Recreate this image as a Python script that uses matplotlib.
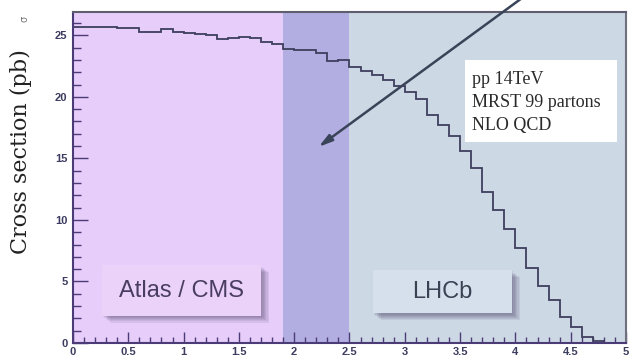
import matplotlib
matplotlib.use("Agg")
import matplotlib.pyplot as plt
import numpy as np
from matplotlib.patches import Rectangle
from matplotlib.ticker import MultipleLocator, FuncFormatter

# Histogram contents, bins of 0.1 from 0 to 5
bin_edges = np.linspace(0, 5, 51)
cross_section = [25.7, 25.7, 25.7, 25.7, 25.6, 25.6, 25.3, 25.3, 25.5, 25.3,
                 25.2, 25.1, 25.0, 24.7, 24.8, 24.9, 24.8, 24.5, 24.3, 23.9,
                 23.8, 23.8, 23.6, 22.9, 23.0, 22.4, 22.1, 21.8, 21.4, 20.9,
                 20.4, 19.8, 18.5, 17.7, 16.8, 15.6, 14.2, 12.3, 10.8, 9.3,
                 7.7, 6.1, 4.6, 3.5, 2.1, 1.3, 0.5, 0.2, 0.0, 0.0]

# Acceptance regions
atlas_range = (0.0, 1.9)
overlap_range = (1.9, 2.5)
lhcb_range = (2.5, 5.0)

info_lines = ["pp 14TeV", "MRST 99 partons", "NLO QCD"]

fig = plt.figure(figsize=(6.34, 3.61), dpi=100)
ax = fig.add_axes([0.1151, 0.0499, 0.8723, 0.9169])
ax.set_xlim(0, 5)
ax.set_ylim(0, 26.9)

# coloured regions
ax.axvspan(*atlas_range, color="#e6cdfa", lw=0, zorder=0)
ax.axvspan(*overlap_range, color="#b3aee2", lw=0, zorder=0)
ax.axvspan(*lhcb_range, color="#cdd8e5", lw=0, zorder=0)

# histogram
ax.stairs(cross_section, bin_edges, color="#3e3f5e", lw=1.3, zorder=2)


def shadow_box(x0, y0, x1, y1, face):
    # soft drop shadow, then the box
    for i in range(6):
        dx = 0.012 * (i + 1)
        dy = 0.09 * (i + 1)
        ax.add_patch(Rectangle((x0 + dx, y0 - dy), x1 - x0, y1 - y0,
                               facecolor="#3a2f55", edgecolor="none",
                               alpha=0.09, zorder=3))
    ax.add_patch(Rectangle((x0, y0), x1 - x0, y1 - y0, facecolor=face,
                           edgecolor="none", zorder=3.5))


shadow_box(0.26, 2.2, 1.70, 6.3, "#ebd2f8")
ax.text(0.98, 4.25, "Atlas / CMS", family="Liberation Sans", fontsize=17,
        color="#4a3d62", ha="center", va="center", zorder=4)

shadow_box(2.71, 2.4, 3.97, 5.9, "#d6dfec")
ax.text(3.34, 4.15, "LHCb", family="Liberation Sans", fontsize=17,
        color="#3a4152", ha="center", va="center", zorder=4)

# white info box
ax.add_patch(Rectangle((3.54, 16.3), 1.38, 6.7, facecolor="white",
                       edgecolor="none", zorder=4))
for k, line in enumerate(info_lines):
    ax.text(3.61, 21.4 - 1.85 * k, line, family="Liberation Serif",
            fontsize=13, color="#2a2a2a", ha="left", va="center", zorder=5)

# arrow coming from above the frame
ax.annotate("", xy=(2.2, 15.8), xytext=(4.10, 28.3),
            arrowprops=dict(arrowstyle="-|>,head_width=0.22,head_length=0.8",
                            color="#3a4458", lw=1.8),
            annotation_clip=False, zorder=6)

# ticks
ax.xaxis.set_major_locator(MultipleLocator(0.5))
ax.xaxis.set_minor_locator(MultipleLocator(0.1))
ax.yaxis.set_major_locator(MultipleLocator(5))
ax.yaxis.set_minor_locator(MultipleLocator(1))
ax.xaxis.set_major_formatter(FuncFormatter(lambda v, p: "%g" % v))
ax.tick_params(which="both", direction="in", color="#4b3c78", width=1.0,
               labelsize=8, labelcolor="#3c3c60", top=False, right=False)
ax.tick_params(axis="y", which="major", length=11, pad=4)
ax.tick_params(axis="y", which="minor", length=5.5)
ax.tick_params(axis="x", which="major", length=8, pad=3)
ax.tick_params(axis="x", which="minor", length=4)
for lab in ax.get_xticklabels() + ax.get_yticklabels():
    lab.set_family("Liberation Sans")
    lab.set_fontweight("bold")

ax.spines["left"].set_color("#4b3c78")
ax.spines["bottom"].set_color("#4b3c78")
ax.spines["top"].set_color("#5e5e6e")
ax.spines["right"].set_color("#70707e")
for s in ax.spines.values():
    s.set_linewidth(1.5)

fig.text(0.033, 0.579, "Cross section (pb)", family="DejaVu Serif",
         fontsize=16, rotation=90, ha="center", va="center", color="#222222")
fig.text(0.039, 0.948, "σ", rotation=90, fontsize=7, color="#777777",
         ha="center", va="center")

fig.savefig("out.png", dpi=100)
